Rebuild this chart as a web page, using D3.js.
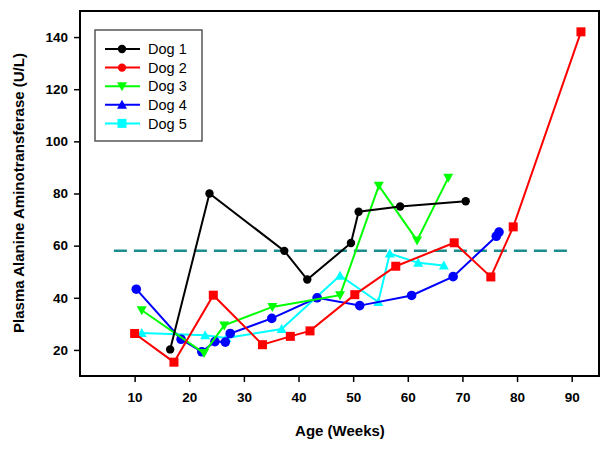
<!DOCTYPE html>
<html><head><meta charset="utf-8">
<script src="https://cdn.jsdelivr.net/npm/d3@7"></script>
<style>body{margin:0;background:#fff}svg{display:block}</style>
</head><body>
<svg id="c" width="611" height="451"></svg>
<script>
const seriesNames = ["Dog 1","Dog 2","Dog 3","Dog 4","Dog 5"];
const seriesColors = ["#000000","#ff0000","#00ff00","#0000ff","#00ffff"];
const plotMarkers = ["circle","square","triDown","circleBig","triUp"];
const legendMarkers = ["circle","circle","triDown","triUp","square"];

const dog1 = [[16.5,20.2],[23.7,80],[37.4,58],[41.6,47],[49.6,61],[51,73],[58.6,75],[70.6,77]];
const dog2 = [[10,26.3],[17.2,15.3],[24.4,41],[33.4,22],[38.5,25.2],[42.1,27.3],[50.3,41.2],[57.8,52.1],[68.5,61.1],[75.2,48],[79.3,67.2],[91.7,142]];
const dog3 = [[11.3,35.2],[22.7,18.8],[26.4,29.4],[35.2,36.5],[47.6,41],[54.7,83],[61.7,62],[67.4,86]];
const dog4 = [[10.3,43.3],[18.5,24.1],[22.3,19.3],[24.7,23.2],[26.6,23],[27.5,26.3],[35.1,32.1],[43.4,40],[51.2,37],[60.7,40.9],[68.3,48.1],[76.2,63.6],[76.7,65.2]];
const dog5 = [[11.3,26.5],[22.9,25.6],[26.8,24.6],[36.9,28],[47.6,48.5],[54.6,38.4],[56.7,57],[61.9,53.4],[66.6,52.4]];
const seriesData = [dog1,dog2,dog3,dog4,dog5];

const refLine = {x0:6.2, x1:90.3, y:58};
const xTicks = [10,20,30,40,50,60,70,80,90];
const yTicks = [20,40,60,80,100,120,140];

const svg = d3.select("#c");
const L=80, R=599, T=11, B=376;
const x = d3.scaleLinear().domain([0,95]).range([L,R]);
const y = d3.scaleLinear().domain([10,150]).range([B,T]);
const font = "Arial, 'Liberation Sans', sans-serif";

const xAxis = svg.append("g").attr("transform",`translate(0,${B})`)
  .call(d3.axisBottom(x).tickValues(xTicks).tickSize(6).tickPadding(10).tickSizeOuter(0));
const yAxis = svg.append("g").attr("transform",`translate(${L},0)`)
  .call(d3.axisLeft(y).tickValues(yTicks).tickSize(6).tickPadding(6).tickSizeOuter(0));
[xAxis,yAxis].forEach(a=>{
  a.select(".domain").remove();
  a.selectAll(".tick line").attr("stroke","#000").attr("stroke-width",1.5);
  a.selectAll(".tick text").attr("font-family",font).attr("font-size",13.5).attr("font-weight","bold").attr("fill","#000");
});

svg.append("rect").attr("x",L).attr("y",T).attr("width",R-L).attr("height",B-T)
  .attr("fill","none").attr("stroke","#000").attr("stroke-width",2);

svg.append("line").attr("x1",x(refLine.x0)).attr("x2",x(refLine.x1))
  .attr("y1",y(refLine.y)).attr("y2",y(refLine.y))
  .attr("stroke","#1d8c8c").attr("stroke-width",2.5).attr("stroke-dasharray","13,7");

function marker(g, type, cx, cy, color){
  if(type==="circle") g.append("circle").attr("cx",cx).attr("cy",cy).attr("r",4.2).attr("fill",color);
  else if(type==="circleBig") g.append("circle").attr("cx",cx).attr("cy",cy).attr("r",4.8).attr("fill",color);
  else if(type==="square") g.append("rect").attr("x",cx-4.5).attr("y",cy-4.5).attr("width",9).attr("height",9).attr("fill",color);
  else if(type==="triDown") g.append("path").attr("d",`M${cx-5},${cy-4}L${cx+5},${cy-4}L${cx},${cy+5}Z`).attr("fill",color);
  else if(type==="triUp") g.append("path").attr("d",`M${cx-5},${cy+4}L${cx+5},${cy+4}L${cx},${cy-5}Z`).attr("fill",color);
}

const line = d3.line().x(d=>x(d[0])).y(d=>y(d[1]));
const order = [4,3,2,1,0];
order.forEach(i=>{
  const g = svg.append("g");
  g.append("path").datum(seriesData[i]).attr("d",line).attr("fill","none")
    .attr("stroke",seriesColors[i]).attr("stroke-width",2);
  seriesData[i].forEach(d=>marker(g, plotMarkers[i], x(d[0]), y(d[1]), seriesColors[i]));
});

const lg = svg.append("g");
lg.append("rect").attr("x",95).attr("y",30).attr("width",107).attr("height",111)
  .attr("fill","#fff").attr("stroke","#555").attr("stroke-width",1.5);
seriesNames.forEach((n,i)=>{
  const yy = 49 + i*18.6;
  lg.append("line").attr("x1",105).attr("x2",140).attr("y1",yy).attr("y2",yy)
    .attr("stroke",seriesColors[i]).attr("stroke-width",2);
  marker(lg, legendMarkers[i], 122, yy, seriesColors[i]);
  lg.append("text").attr("x",148).attr("y",yy).attr("dy","0.36em")
    .attr("font-family",font).attr("font-size",14.5).attr("fill","#000").text(n);
});

svg.append("text").attr("x",340).attr("y",436).attr("text-anchor","middle")
  .attr("font-family",font).attr("font-size",15).attr("font-weight","bold").text("Age (Weeks)");
svg.append("text").attr("transform","translate(24,193) rotate(-90)").attr("text-anchor","middle")
  .attr("font-family",font).attr("font-size",15).attr("font-weight","bold").text("Plasma Alanine Aminotransferase (U/L)");
</script>
</body></html>
